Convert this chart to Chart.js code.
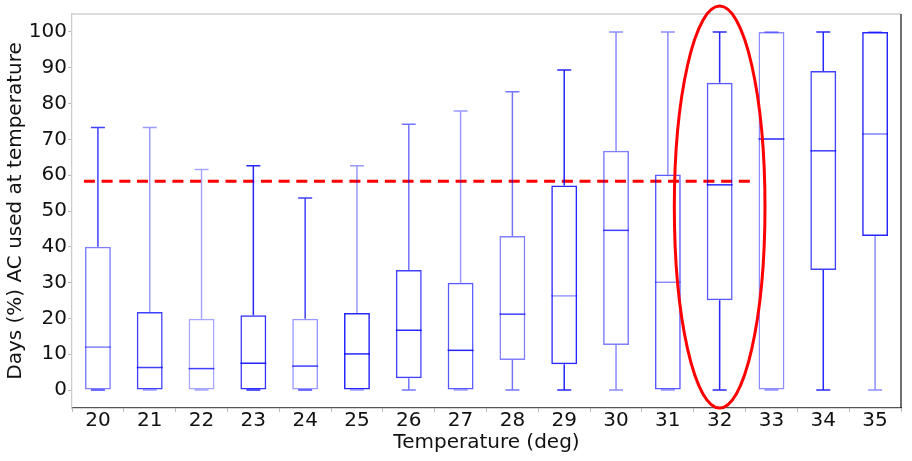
<!DOCTYPE html>
<html>
<head>
<meta charset="utf-8">
<script src="https://cdn.jsdelivr.net/npm/chart.js@4.4.1/dist/chart.umd.min.js"></script>
<style>
html, body { margin: 0; padding: 0; background: #fff; }
#wrap { width: 912px; height: 461px; }
</style>
</head>
<body>
<div id="wrap"><canvas id="boxChart" width="912" height="461"></canvas></div>
<script>
// values
var temps = ['20', '21', '22', '23', '24', '25', '26', '27', '28', '29', '30', '31', '32', '33', '34', '35'];
var whiskerLow = [0, 0, 0, 0, 0, 0, 0, 0, 0, 0, 0, 0, 0, 0, 0, 0];
var q1 = [0, 0, 0, 0, 0, 0, 3.3, 0, 8.4, 7.2, 12.6, 0, 25.1, 0, 33.5, 43];
var median = [12, 6.3, 6, 7.5, 6.7, 10.1, 16.7, 11.1, 21.2, 26.3, 44.6, 30.1, 57.3, 70.1, 66.8, 71.5];
var q3 = [40, 21.8, 19.9, 20.9, 19.9, 21.5, 33.5, 30, 43, 57.1, 66.8, 60.2, 85.8, 100, 89.1, 100];
var whiskerHigh = [73.3, 73.3, 61.6, 62.6, 53.6, 62.6, 74.2, 77.9, 83.3, 89.4, 100, 100, 100, 100, 100, 100];
var yTicks = [0, 10, 20, 30, 40, 50, 60, 70, 80, 90, 100];

// red reference line and the highlight round temperature 32
var refLevel = 58.3;
var refFrom = -0.27, refTo = 12.6;     // in category units
var ringAt = 12, ringMid = 51.1, ringHalfX = 0.875, ringHalfY = 56.1;

// line opacity of each box (the blue lines are semi transparent)
var boxAlpha = [0.5, 0.75, 0.35, 0.8, 0.4, 0.85, 0.75, 0.65, 0.5, 0.85, 0.5, 0.65, 0.65, 0.45, 0.75, 0.85];
var whiskerAlpha = [0.75, 0.4, 0.35, 0.85, 0.75, 0.4, 0.55, 0.4, 0.55, 0.85, 0.45, 0.45, 0.85, 0.45, 0.85, 0.45];
var medianAlpha = [0.5, 0.75, 0.75, 0.85, 0.75, 0.85, 0.85, 0.85, 0.75, 0.4, 0.75, 0.45, 0.85, 0.85, 0.75, 0.5];

var blue = function(a){ return 'rgba(0,0,255,' + a + ')'; };
var font = { family: 'DejaVu Sans', size: 20 };

var boxParts = {
    id: 'boxParts',
    beforeDatasetsDraw: function(chart){
        var x = chart.scales.x, y = chart.scales.y, ctx = chart.ctx;
        var yy = y.getPixelForValue(refLevel);
        ctx.save();
        ctx.strokeStyle = 'rgb(255,0,0)';
        ctx.lineWidth = 3;
        ctx.setLineDash([11, 6.7]);
        ctx.beginPath();
        ctx.moveTo(x.getPixelForValue(refFrom), yy);
        ctx.lineTo(x.getPixelForValue(refTo), yy);
        ctx.stroke();
        ctx.restore();
    },
    afterDatasetsDraw: function(chart){
        var x = chart.scales.x, y = chart.scales.y, ctx = chart.ctx;
        var step = x.getPixelForValue(1) - x.getPixelForValue(0);
        var capHalf = step * 0.135, boxHalf = step * 0.25;
        ctx.save();
        ctx.lineWidth = 1.5;
        temps.forEach(function(t, i){
            var cx = x.getPixelForValue(i);
            // whiskers and caps
            ctx.strokeStyle = blue(whiskerAlpha[i]);
            ctx.beginPath();
            ctx.moveTo(cx, y.getPixelForValue(q3[i]));
            ctx.lineTo(cx, y.getPixelForValue(whiskerHigh[i]));
            ctx.moveTo(cx, y.getPixelForValue(q1[i]));
            ctx.lineTo(cx, y.getPixelForValue(whiskerLow[i]));
            ctx.moveTo(cx - capHalf, y.getPixelForValue(whiskerHigh[i]));
            ctx.lineTo(cx + capHalf, y.getPixelForValue(whiskerHigh[i]));
            ctx.moveTo(cx - capHalf, y.getPixelForValue(whiskerLow[i]));
            ctx.lineTo(cx + capHalf, y.getPixelForValue(whiskerLow[i]));
            ctx.stroke();
            // median
            ctx.strokeStyle = blue(medianAlpha[i]);
            ctx.beginPath();
            ctx.moveTo(cx - boxHalf, y.getPixelForValue(median[i]));
            ctx.lineTo(cx + boxHalf, y.getPixelForValue(median[i]));
            ctx.stroke();
        });
        ctx.restore();
    },
    afterDraw: function(chart){
        var x = chart.scales.x, y = chart.scales.y, ctx = chart.ctx, a = chart.chartArea;
        ctx.save();
        // top and right frame
        ctx.lineWidth = 1.3;
        ctx.strokeStyle = '#d0d0d0';
        ctx.beginPath(); ctx.moveTo(a.left, a.top); ctx.lineTo(a.right, a.top); ctx.stroke();
        ctx.strokeStyle = '#222';
        ctx.beginPath(); ctx.moveTo(a.right, a.top); ctx.lineTo(a.right, a.bottom); ctx.stroke();
        // red ring
        var step = x.getPixelForValue(1) - x.getPixelForValue(0);
        var cy = y.getPixelForValue(ringMid);
        ctx.strokeStyle = 'rgb(255,0,0)';
        ctx.lineWidth = 3;
        ctx.beginPath();
        ctx.ellipse(x.getPixelForValue(ringAt), cy, ringHalfX * step,
            Math.abs(y.getPixelForValue(ringMid + ringHalfY) - cy), 0, 0, Math.PI * 2);
        ctx.stroke();
        ctx.restore();
    }
};

var ctx = document.getElementById('boxChart').getContext('2d');
var boxChart = new Chart(ctx, {
    type: 'bar',
    data: {
        labels: temps,
        datasets: [{
            data: temps.map(function(t, i){ return [q1[i], q3[i]]; }),
            borderColor: boxAlpha.map(blue),
            backgroundColor: 'rgba(0,0,0,0)',
            borderWidth: 1.5,
            borderSkipped: false,
            barPercentage: 0.5,
            categoryPercentage: 1
        }]
    },
    options: {
        responsive: false,
        animation: false,
        layout: { padding: { top: 14, right: 11, left: 0, bottom: 0 } },
        plugins: { legend: { display: false }, tooltip: { enabled: false } },
        scales: {
            x: {
                offset: true,
                grid: { drawOnChartArea: false, drawTicks: true, tickLength: 4, color: '#bbb' },
                border: { color: '#555', width: 1.3 },
                ticks: { font: font, color: '#111', padding: -3.3, maxRotation: 0 },
                title: { display: true, text: 'Temperature (deg)', font: font, color: '#111', padding: { top: 0, bottom: 6.6 } },
                afterFit: function(s){ s.height = 53; }
            },
            y: {
                min: -5,
                max: 105,
                afterBuildTicks: function(s){ s.ticks = yTicks.map(function(v){ return { value: v }; }); },
                grid: { drawOnChartArea: false, drawTicks: true, tickLength: 4, color: '#bbb' },
                border: { color: '#ccc', width: 1.3 },
                ticks: { font: font, color: '#111', padding: 1 },
                title: { display: true, text: 'Days (%) AC used at temperature', font: font, color: '#111', padding: { top: 3.4, bottom: 0 } },
                afterFit: function(s){ s.width = 72; }
            }
        }
    },
    plugins: [boxParts]
});
</script>
</body>
</html>
